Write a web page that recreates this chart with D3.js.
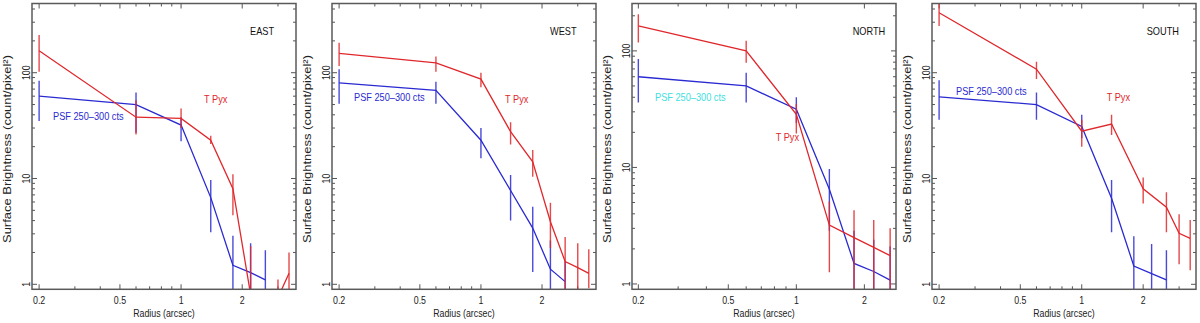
<!DOCTYPE html>
<html>
<head>
<meta charset="utf-8">
<script src="https://cdn.jsdelivr.net/npm/d3@7"></script>
<style>
  html, body { margin: 0; padding: 0; background: #fff; }
  svg { display: block; }
  text { font-family: "Liberation Sans", Arial, sans-serif; }
</style>
</head>
<body>
<svg id="chart" width="1200" height="323"></svg>
<script>
// ---------------- DATA ----------------
const panelNames = ["EAST", "WEST", "NORTH", "SOUTH"];
const xTickLabels = ["0.2", "0.5", "1", "2"];
const yTickLabels = ["1", "10", "100"];

// PSF (250-300 cts) radial profile
const psfRadius = [0.2, 0.6, 1.0, 1.4, 1.8, 2.2, 2.6];
const eastPsf   = [60, 50, 32, 6.6, 1.51, 1.29, 1.10];
const eastPsfLo = [35, 27, 22.5, 3.1, 0.3, 0.3, 0.3];
const eastPsfHi = [84, 65, 38, 9.7, 2.87, 2.44, 2.10];
const westPsf   = [80, 68, 23, 7.7, 3.4, 1.39, 1.06];
const westPsfLo = [51, 51, 15.5, 4.0, 1.31, 0.3, 0.3];
const westPsfHi = [108, 82, 30, 10.8, 5.4, 2.6, 1.64];
const northPsf   = [60, 50, 31.6, 6.5, 1.50, 1.28, 1.08];
const northPsfLo = [36, 36, 24, 2.86, 0.3, 0.3, 0.3];
const northPsfHi = [85, 65, 40, 9.7, 2.86, 2.40, 2.10];
const southPsf   = [59, 50, 31, 6.5, 1.49, 1.26, 1.10];
const southPsfLo = [36, 36, 24, 3.1, 0.3, 0.3, 0.3];
const southPsfHi = [85, 65, 40, 9.7, 2.84, 2.40, 2.10];

// T Pyx radial profile
const eastTpyxRadius = [0.2, 0.6, 1.0, 1.4, 1.8, 2.2, 2.6, 3.0, 3.4];
const eastTpyx   = [161, 38, 37, 23, 8.0, 0.8, 0.4, 0.75, 1.27];
const eastTpyxLo = [102, 26, 30, 21.2, 4.5, 0.3, 0.2, 0.3, 0.5];
const eastTpyxHi = [227, 55, 46, 25.4, 11, 2.3, 0.8, 1.11, 2.0];
const westTpyxRadius = [0.2, 0.6, 1.0, 1.4, 1.8, 2.2, 2.6, 3.0, 3.4];
const westTpyx   = [152, 124, 87, 27.7, 14.4, 3.9, 1.64, 1.44, 1.27];
const westTpyxLo = [116, 102, 73, 21, 10.4, 2.2, 0.4, 0.4, 0.92];
const westTpyxHi = [192, 142, 100, 34, 18.6, 5.9, 2.8, 2.44, 2.14];
const northTpyxRadius = [0.2, 0.6, 1.0, 1.4, 1.8, 2.2, 2.6];
const northTpyx   = [164, 100, 28.6, 3.2, 2.5, 2.06, 1.75];
const northTpyxLo = [118, 79, 19.5, 1.26, 0.6, 0.5, 0.5];
const northTpyxHi = [206, 122, 35, 5.1, 4.3, 3.54, 3.0];
const southTpyxRadius = [0.2, 0.6, 1.0, 1.4, 2.0, 2.6, 3.0, 3.4];
const southTpyx   = [369, 108, 28, 32.7, 8.0, 5.35, 3.03, 2.72];
const southTpyxLo = [276, 87, 20, 25.8, 5.8, 3.1, 1.55, 1.36];
const southTpyxHi = [462, 127, 36, 40, 10.2, 7.4, 4.6, 4.06];

// axis ranges per panel
const xDomains = [[0.1845, 3.68], [0.1845, 3.69], [0.1875, 2.76], [0.1846, 3.63]];
const yDomains = [[0.897, 451], [0.897, 451], [0.90, 255], [0.897, 451]];

// ---------------- LAYOUT ----------------
const svg = d3.select("#chart");
const RED = "#e0282c", BLUE = "#2a2ad2", CYAN = "#3ee0e0";
const panelW = 300, plotL = 32, plotR = 296, plotT = 3.5, plotB = 289.3;
const NARROW = 0.8;

function condense(sel) {
  sel.each(function () {
    const w = this.getComputedTextLength();
    d3.select(this).attr("textLength", w * NARROW).attr("lengthAdjust", "spacingAndGlyphs");
  });
  return sel;
}

const panels = [
  {psf: [psfRadius, eastPsf, eastPsfLo, eastPsfHi], tp: [eastTpyxRadius, eastTpyx, eastTpyxLo, eastTpyxHi],
   title: [250, 35], tpLab: [204, 103], psfLab: [53, 120], psfColor: BLUE},
  {psf: [psfRadius, westPsf, westPsfLo, westPsfHi], tp: [westTpyxRadius, westTpyx, westTpyxLo, westTpyxHi],
   title: [250, 35], tpLab: [205, 103], psfLab: [54, 100.5], psfColor: BLUE},
  {psf: [psfRadius, northPsf, northPsfLo, northPsfHi], tp: [northTpyxRadius, northTpyx, northTpyxLo, northTpyxHi],
   title: [252.7, 34.5], tpLab: [175.7, 140.5], psfLab: [55, 101], psfColor: CYAN},
  {psf: [psfRadius, southPsf, southPsfLo, southPsfHi], tp: [southTpyxRadius, southTpyx, southTpyxLo, southTpyxHi],
   title: [246.7, 35], tpLab: [206.7, 101], psfLab: [56, 94.5], psfColor: BLUE}
];

const xMinor = [0.2,0.3,0.4,0.5,0.6,0.7,0.8,0.9,1,2,3];
const xMajor = [0.2,0.5,1,2];
const yMinor = [1,2,3,4,5,6,7,8,9,10,20,30,40,50,60,70,80,90,100,200,300,400];
const yMajor = [1,10,100];

panels.forEach((p, i) => {
  const g = svg.append("g").attr("transform", `translate(${i * panelW},0)`);
  const x = d3.scaleLog().domain(xDomains[i]).range([plotL, plotR]);
  const y = d3.scaleLog().domain(yDomains[i]).range([plotB, plotT]);

  const clipId = "clip" + i;
  g.append("clipPath").attr("id", clipId).append("rect")
    .attr("x", plotL).attr("y", plotT).attr("width", plotR - plotL).attr("height", plotB - plotT);

  // ticks (inward, all four sides)
  const tickG = g.append("g").attr("stroke", "#555").attr("stroke-width", 1);
  xMinor.filter(v => v >= xDomains[i][0] && v <= xDomains[i][1]).forEach(v => {
    const len = xMajor.includes(v) ? 5 : 3;
    const px = x(v);
    tickG.append("line").attr("x1", px).attr("x2", px).attr("y1", plotB).attr("y2", plotB - len);
    tickG.append("line").attr("x1", px).attr("x2", px).attr("y1", plotT).attr("y2", plotT + len);
  });
  yMinor.filter(v => v >= yDomains[i][0] && v <= yDomains[i][1]).forEach(v => {
    const len = yMajor.includes(v) ? 5 : 3;
    const py = y(v);
    tickG.append("line").attr("x1", plotL).attr("x2", plotL + len).attr("y1", py).attr("y2", py);
    tickG.append("line").attr("x1", plotR).attr("x2", plotR - len).attr("y1", py).attr("y2", py);
  });

  // tick labels
  xTickLabels.forEach(t => {
    condense(g.append("text").attr("x", x(+t)).attr("y", 304).attr("text-anchor", "middle")
      .attr("font-size", 11).attr("fill", "#222").text(t));
  });
  yTickLabels.forEach(t => {
    const py = y(+t);
    condense(g.append("text").attr("transform", `translate(30,${py}) rotate(-90)`).attr("text-anchor", "middle")
      .attr("font-size", 11).attr("fill", "#222").text(t));
  });

  // axis titles
  condense(g.append("text").attr("x", (plotL + plotR) / 2).attr("y", 316.5).attr("text-anchor", "middle")
    .attr("font-size", 11).attr("fill", "#222").text("Radius (arcsec)"));
  g.append("text").attr("transform", "translate(11,149) rotate(-90)").attr("text-anchor", "middle")
    .attr("font-size", 11).attr("fill", "#222")
    .attr("textLength", 188).attr("lengthAdjust", "spacingAndGlyphs")
    .text("Surface Brightness (count/pixel²)");

  const plot = g.append("g").attr("clip-path", `url(#${clipId})`);
  const line = d3.line().x(d => x(d[0])).y(d => y(d[1]));

  function series(arr, color) {
    const [rx, v, lo, hi] = arr;
    const pts = rx.map((r, k) => [r, v[k], lo[k], hi[k]]);
    plot.append("g").selectAll("line").data(pts).join("line")
      .attr("x1", d => x(d[0])).attr("x2", d => x(d[0]))
      .attr("y1", d => y(d[2])).attr("y2", d => y(d[3]))
      .attr("stroke", color).attr("stroke-width", 1.4).attr("stroke-opacity", 0.85);
    plot.append("path").datum(pts).attr("d", line)
      .attr("fill", "none").attr("stroke", color).attr("stroke-width", 1.3);
  }
  series(p.psf, BLUE);
  series(p.tp, RED);

  // frame
  g.append("rect").attr("x", plotL).attr("y", plotT).attr("width", plotR - plotL).attr("height", plotB - plotT)
    .attr("fill", "none").attr("stroke", "#5a5a5a").attr("stroke-width", 1.5);

  // labels
  condense(g.append("text").attr("x", p.title[0]).attr("y", p.title[1]).attr("font-size", 11.5).attr("fill", "#111").text(panelNames[i]));
  condense(g.append("text").attr("x", p.tpLab[0]).attr("y", p.tpLab[1]).attr("font-size", 11.5).attr("fill", RED).text("T Pyx"));
  condense(g.append("text").attr("x", p.psfLab[0]).attr("y", p.psfLab[1]).attr("font-size", 11.5).attr("fill", p.psfColor).text("PSF 250–300 cts"));
});
</script>
</body>
</html>
